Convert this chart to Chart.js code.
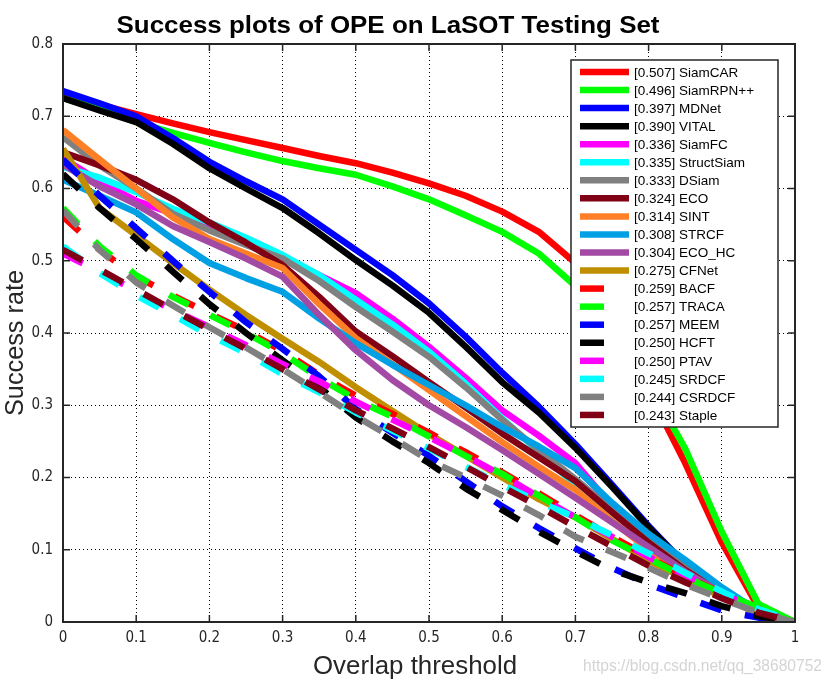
<!DOCTYPE html>
<html>
<head>
<meta charset="utf-8">
<script src="https://cdn.jsdelivr.net/npm/chart.js@4.4.1/dist/chart.umd.min.js"></script>
<style>
  html, body { margin: 0; padding: 0; background: #fff; }
  #wrap { position: relative; width: 830px; height: 684px; }
</style>
</head>
<body>
<div id="wrap"><canvas id="successChart" width="830" height="684"></canvas></div>
<script>
// overlap thresholds (x) and tick labels
const thresholds = [0, 0.05, 0.1, 0.15, 0.2, 0.25, 0.3, 0.35, 0.4, 0.45, 0.5,
                    0.55, 0.6, 0.65, 0.7, 0.75, 0.8, 0.85, 0.9, 0.95, 1];
const xTickValues = [0, 0.1, 0.2, 0.3, 0.4, 0.5, 0.6, 0.7, 0.8, 0.9, 1];
const xTickLabels = ['0', '0.1', '0.2', '0.3', '0.4', '0.5', '0.6', '0.7', '0.8', '0.9', '1'];
const yTickValues = [0, 0.1, 0.2, 0.3, 0.4, 0.5, 0.6, 0.7, 0.8];
const yTickLabels = ['0', '0.1', '0.2', '0.3', '0.4', '0.5', '0.6', '0.7', '0.8'];

// trackers, in legend order
const trackerNames = ['SiamCAR', 'SiamRPN++', 'MDNet', 'VITAL', 'SiamFC', 'StructSiam', 'DSiam', 'ECO',
                      'SINT', 'STRCF', 'ECO_HC', 'CFNet', 'BACF', 'TRACA', 'MEEM', 'HCFT', 'PTAV',
                      'SRDCF', 'CSRDCF', 'Staple'];
const trackerScores = ['0.507', '0.496', '0.397', '0.390', '0.336', '0.335', '0.333', '0.324',
                       '0.314', '0.308', '0.304', '0.275', '0.259', '0.257', '0.257', '0.250', '0.250',
                       '0.245', '0.244', '0.243'];
const trackerColors = ['#ff0000', '#00ff00', '#0000ff', '#000000', '#ff00ff', '#00ffff', '#808080', '#800015',
                       '#ff7f27', '#00a0e4', '#a24aa4', '#c08f00', '#ff0000', '#00ff00', '#0000ff', '#000000',
                       '#ff00ff', '#00ffff', '#808080', '#800015'];
const trackerDashed = [false, false, false, false, false, false, false, false, false, false, false, false,
                       true, true, true, true, true, true, true, true];

// success rate at each threshold
const siamCAR   = [0.730, 0.716, 0.703, 0.690, 0.678, 0.667, 0.656, 0.645, 0.635, 0.622, 0.607, 0.590, 0.568, 0.540, 0.497, 0.410, 0.320, 0.220, 0.110, 0.020, 0];
const siamRPNpp = [0.725, 0.710, 0.692, 0.677, 0.663, 0.650, 0.638, 0.628, 0.619, 0.603, 0.585, 0.563, 0.540, 0.510, 0.465, 0.400, 0.330, 0.240, 0.125, 0.025, 0];
const mdnet     = [0.735, 0.718, 0.700, 0.670, 0.637, 0.610, 0.585, 0.550, 0.515, 0.480, 0.441, 0.395, 0.345, 0.298, 0.246, 0.190, 0.133, 0.080, 0.040, 0.012, 0];
const vital     = [0.725, 0.708, 0.692, 0.662, 0.628, 0.600, 0.573, 0.538, 0.501, 0.466, 0.428, 0.381, 0.332, 0.290, 0.241, 0.187, 0.131, 0.080, 0.040, 0.012, 0];
const siamFC    = [0.642, 0.610, 0.583, 0.565, 0.548, 0.528, 0.505, 0.480, 0.455, 0.420, 0.381, 0.338, 0.293, 0.258, 0.220, 0.160, 0.105, 0.065, 0.035, 0.012, 0];
const structSiam= [0.630, 0.615, 0.595, 0.572, 0.553, 0.532, 0.508, 0.480, 0.446, 0.412, 0.374, 0.330, 0.282, 0.235, 0.190, 0.145, 0.105, 0.070, 0.038, 0.012, 0];
const dSiam     = [0.671, 0.632, 0.600, 0.565, 0.542, 0.522, 0.503, 0.472, 0.436, 0.402, 0.367, 0.325, 0.280, 0.238, 0.198, 0.155, 0.115, 0.075, 0.040, 0.012, 0];
const eco       = [0.650, 0.632, 0.612, 0.585, 0.553, 0.525, 0.494, 0.450, 0.402, 0.368, 0.332, 0.297, 0.261, 0.228, 0.195, 0.152, 0.110, 0.072, 0.040, 0.012, 0];
const sint      = [0.681, 0.640, 0.600, 0.560, 0.530, 0.510, 0.490, 0.440, 0.393, 0.357, 0.321, 0.285, 0.249, 0.215, 0.183, 0.140, 0.100, 0.065, 0.035, 0.012, 0];
const strcf     = [0.612, 0.590, 0.567, 0.530, 0.497, 0.476, 0.457, 0.420, 0.386, 0.356, 0.328, 0.300, 0.270, 0.243, 0.213, 0.165, 0.122, 0.086, 0.048, 0.015, 0];
const ecoHC     = [0.633, 0.603, 0.578, 0.548, 0.526, 0.503, 0.478, 0.425, 0.376, 0.335, 0.300, 0.270, 0.238, 0.205, 0.172, 0.138, 0.104, 0.070, 0.040, 0.012, 0];
const cfnet     = [0.655, 0.573, 0.535, 0.497, 0.460, 0.425, 0.392, 0.360, 0.325, 0.292, 0.260, 0.230, 0.200, 0.170, 0.145, 0.115, 0.085, 0.060, 0.035, 0.012, 0];
const bacf      = [0.561, 0.515, 0.478, 0.452, 0.427, 0.403, 0.375, 0.342, 0.313, 0.288, 0.262, 0.235, 0.207, 0.178, 0.148, 0.118, 0.090, 0.063, 0.040, 0.018, 0];
const traca     = [0.573, 0.520, 0.480, 0.450, 0.425, 0.400, 0.372, 0.338, 0.308, 0.284, 0.257, 0.230, 0.205, 0.175, 0.145, 0.113, 0.088, 0.062, 0.040, 0.020, 0];
const meem      = [0.640, 0.590, 0.545, 0.500, 0.457, 0.415, 0.378, 0.340, 0.295, 0.262, 0.230, 0.195, 0.160, 0.130, 0.102, 0.075, 0.052, 0.034, 0.016, 0.006, 0];
const hcft      = [0.620, 0.573, 0.530, 0.485, 0.440, 0.400, 0.362, 0.325, 0.283, 0.250, 0.220, 0.185, 0.155, 0.125, 0.098, 0.072, 0.055, 0.040, 0.022, 0.008, 0];
const ptav      = [0.510, 0.485, 0.458, 0.432, 0.408, 0.383, 0.357, 0.333, 0.305, 0.280, 0.256, 0.230, 0.203, 0.173, 0.145, 0.118, 0.090, 0.065, 0.040, 0.015, 0];
const srdcf     = [0.520, 0.483, 0.452, 0.425, 0.397, 0.372, 0.343, 0.318, 0.290, 0.265, 0.240, 0.215, 0.190, 0.166, 0.145, 0.120, 0.095, 0.068, 0.042, 0.018, 0];
const csrdcf    = [0.570, 0.515, 0.470, 0.438, 0.408, 0.380, 0.350, 0.318, 0.285, 0.255, 0.224, 0.200, 0.175, 0.148, 0.118, 0.097, 0.075, 0.052, 0.032, 0.013, 0];
const staple    = [0.515, 0.488, 0.460, 0.432, 0.405, 0.378, 0.350, 0.322, 0.293, 0.268, 0.242, 0.215, 0.187, 0.160, 0.132, 0.105, 0.078, 0.055, 0.033, 0.013, 0];

const trackerValues = [siamCAR, siamRPNpp, mdnet, vital, siamFC, structSiam, dSiam, eco, sint, strcf,
                       ecoHC, cfnet, bacf, traca, meem, hcft, ptav, srdcf, csrdcf, staple];

const LINE_W = 6.5;
const DASH = [22, 24];

// draws text squeezed/stretched to a given width
function fitText(ctx, text, x, y, width, font, align, rotate) {
  ctx.save();
  ctx.font = font;
  const w = ctx.measureText(text).width;
  ctx.translate(x, y);
  if (rotate) ctx.rotate(rotate);
  ctx.scale(width / w, 1);
  ctx.textAlign = align;
  ctx.fillText(text, 0, 0);
  ctx.restore();
}

// title, axis titles, frame, inward ticks, legend box, watermark
const decorations = {
  id: 'decorations',
  afterDatasetsDraw(chart) {
    const ctx = chart.ctx;
    const area = chart.chartArea;
    const xs = chart.scales.x, ys = chart.scales.y;

    // frame
    ctx.save();
    ctx.strokeStyle = '#262626';
    ctx.lineWidth = 2;
    ctx.setLineDash([]);
    ctx.strokeRect(area.left, area.top, area.right - area.left, area.bottom - area.top);
    // inward ticks
    ctx.lineWidth = 1.5;
    ctx.beginPath();
    xTickValues.forEach(v => {
      const px = xs.getPixelForValue(v);
      ctx.moveTo(px, area.bottom); ctx.lineTo(px, area.bottom - 7);
      ctx.moveTo(px, area.top); ctx.lineTo(px, area.top + 7);
    });
    yTickValues.forEach(v => {
      const py = ys.getPixelForValue(v);
      ctx.moveTo(area.left, py); ctx.lineTo(area.left + 7, py);
      ctx.moveTo(area.right, py); ctx.lineTo(area.right - 7, py);
    });
    ctx.stroke();
    ctx.restore();

    // legend
    const lx = 571, ly = 60, lw = 207, lh = 367;
    ctx.save();
    ctx.fillStyle = '#ffffff';
    ctx.fillRect(lx, ly, lw, lh);
    ctx.strokeStyle = '#262626';
    ctx.lineWidth = 1.5;
    ctx.strokeRect(lx, ly, lw, lh);
    ctx.font = '13.5px "Liberation Sans", Arial, sans-serif';
    ctx.textBaseline = 'middle';
    trackerNames.forEach((name, i) => {
      const y = 72 + i * 18.05;
      ctx.strokeStyle = trackerColors[i];
      ctx.lineWidth = LINE_W;
      ctx.beginPath();
      ctx.moveTo(580, y);
      ctx.lineTo(trackerDashed[i] ? 604 : 629, y);
      ctx.stroke();
      ctx.fillStyle = '#000';
      ctx.fillText('[' + trackerScores[i] + '] ' + name, 634, y + 1);
    });
    ctx.restore();

    // texts
    ctx.save();
    ctx.fillStyle = '#000';
    ctx.textBaseline = 'alphabetic';
    fitText(ctx, 'Success plots of OPE on LaSOT Testing Set', 388, 33, 543,
            'bold 24px "Liberation Sans", Arial, sans-serif', 'center');
    ctx.fillStyle = '#262626';
    fitText(ctx, 'Overlap threshold', 415, 674, 204, '25px "Liberation Sans", Arial, sans-serif', 'center');
    fitText(ctx, 'Success rate', 23, 343, 146, '25px "Liberation Sans", Arial, sans-serif', 'center', -Math.PI / 2);
    ctx.fillStyle = '#d4d4d4';
    fitText(ctx, 'https://blog.csdn.net/qq_38680752', 822, 671, 239, '17px "Liberation Sans", Arial, sans-serif', 'right');
    ctx.restore();
  }
};

const datasets = trackerNames.map((name, i) => ({
  label: name,
  data: thresholds.map((t, j) => ({ x: t, y: trackerValues[i][j] })),
  borderColor: trackerColors[i],
  backgroundColor: trackerColors[i],
  borderWidth: LINE_W,
  borderDash: trackerDashed[i] ? DASH : [],
  borderCapStyle: 'butt',
  borderJoinStyle: 'round',
  pointRadius: 0,
  tension: 0,
  fill: false,
  order: trackerNames.length - i   // later trackers drawn on top
}));

const tickFont = { family: '"Liberation Sans Narrow", "DejaVu Sans Condensed", Arial, sans-serif', size: 15 };

new Chart(document.getElementById('successChart'), {
  type: 'line',
  data: { datasets: datasets },
  options: {
    responsive: false,
    animation: false,
    layout: { padding: { left: 0, top: 44, right: 35, bottom: 0 } },
    plugins: {
      legend: { display: false },
      tooltip: { enabled: false },
      title: { display: false }
    },
    scales: {
      x: {
        type: 'linear',
        min: 0,
        max: 1,
        afterBuildTicks: scale => { scale.ticks = xTickValues.map(v => ({ value: v })); },
        afterFit: scale => { scale.height = 62; },
        ticks: {
          color: '#262626',
          font: tickFont,
          padding: 7,
          maxRotation: 0,
          callback: (v, i) => xTickLabels[i]
        },
        grid: { color: '#000', lineWidth: 1, drawTicks: false },
        border: { display: false, dash: [1, 3] }
      },
      y: {
        type: 'linear',
        min: 0,
        max: 0.8,
        afterBuildTicks: scale => { scale.ticks = yTickValues.map(v => ({ value: v })); },
        afterFit: scale => { scale.width = 63; },
        ticks: {
          color: '#262626',
          font: tickFont,
          padding: 10,
          callback: (v, i) => yTickLabels[i]
        },
        grid: { color: '#000', lineWidth: 1, drawTicks: false },
        border: { display: false, dash: [1, 3] }
      }
    }
  },
  plugins: [decorations]
});
</script>
</body>
</html>
